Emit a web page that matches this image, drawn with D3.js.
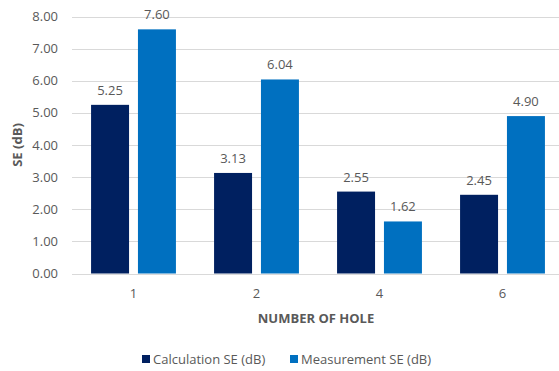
<!DOCTYPE html>
<head>
<meta charset="utf-8">
<style>
body{ margin:0; background:white; }
text{ font-family: "Open Sans", sans-serif; fill:#595959; }
.grid line{ stroke:#d9d9d9; stroke-width:1px; }
</style>
</head>
<body>
<svg width="559" height="371"></svg>
<script src="https://d3js.org/d3.v7.min.js"></script>
<script>

var categories = ["1", "2", "4", "6"];
var series = ["Calculation SE (dB)", "Measurement SE (dB)"];
var calcValues = [5.25, 3.13, 2.55, 2.45];
var measValues = [7.60, 6.04, 1.62, 4.90];
var yTicks = [0, 1, 2, 3, 4, 5, 6, 7, 8];
var colors = ["#002060", "#0070c0"];

var svg = d3.select("svg");

var x0 = d3.scaleBand().domain(categories).range([72, 564]).paddingInner(0.31).paddingOuter(0.155);
var x1 = d3.scaleBand().domain(series).range([0, x0.bandwidth()]).paddingInner(0.19);
var y = d3.scaleLinear().domain([0, 8]).range([273.5, 16.5]);

// gridlines
svg.append("g").attr("class", "grid")
  .selectAll("line").data(yTicks).enter().append("line")
  .attr("x1", 72).attr("x2", 559)
  .attr("y1", d => Math.round(y(d)) + 0.5)
  .attr("y2", d => Math.round(y(d)) + 0.5);

// y tick labels
svg.append("g").selectAll("text").data(yTicks).enter().append("text")
  .attr("x", 58).attr("y", d => y(d))
  .attr("dy", "0.35em")
  .attr("text-anchor", "end")
  .style("font-size", "13px")
  .text(d => d.toFixed(2));

var data = categories.map((c, i) => ({cat: c, vals: [calcValues[i], measValues[i]]}));

var groups = svg.append("g").selectAll("g").data(data).enter().append("g")
  .attr("transform", d => "translate(" + x0(d.cat) + ",0)");

groups.selectAll("rect").data(d => d.vals.map((v, j) => ({s: series[j], v: v, j: j})))
  .enter().append("rect")
  .attr("x", d => x1(d.s))
  .attr("width", x1.bandwidth())
  .attr("y", d => y(d.v))
  .attr("height", d => y(0) - y(d.v))
  .attr("fill", d => colors[d.j]);

groups.selectAll("text.val").data(d => d.vals.map((v, j) => ({s: series[j], v: v})))
  .enter().append("text")
  .attr("class", "val")
  .attr("x", d => x1(d.s) + x1.bandwidth() / 2)
  .attr("y", d => y(d.v) - 10)
  .attr("text-anchor", "middle")
  .style("font-size", "13px")
  .text(d => d.v.toFixed(2));

// x labels
svg.append("g").selectAll("text").data(categories).enter().append("text")
  .attr("x", d => x0(d) + x0.bandwidth() / 2)
  .attr("y", 298)
  .attr("text-anchor", "middle")
  .style("font-size", "13px")
  .text(d => d);

// axis titles
svg.append("text")
  .attr("x", 316).attr("y", 323)
  .attr("text-anchor", "middle")
  .style("font-size", "13px").style("font-weight", "bold")
  .text("NUMBER OF HOLE");

svg.append("text")
  .attr("transform", "translate(22,145) rotate(-90)")
  .attr("text-anchor", "middle")
  .style("font-size", "13px").style("font-weight", "bold")
  .text("SE (dB)");

// legend
var legendX = [142, 290];
var legend = svg.append("g").selectAll("g").data(series).enter().append("g")
  .attr("transform", (d, i) => "translate(" + legendX[i] + ",355)");
legend.append("rect").attr("width", 8).attr("height", 8).attr("fill", (d, i) => colors[i]);
legend.append("text").attr("x", 11).attr("y", 4).attr("dy", "0.35em")
  .style("font-size", "13px").text(d => d);

</script>
</body>
